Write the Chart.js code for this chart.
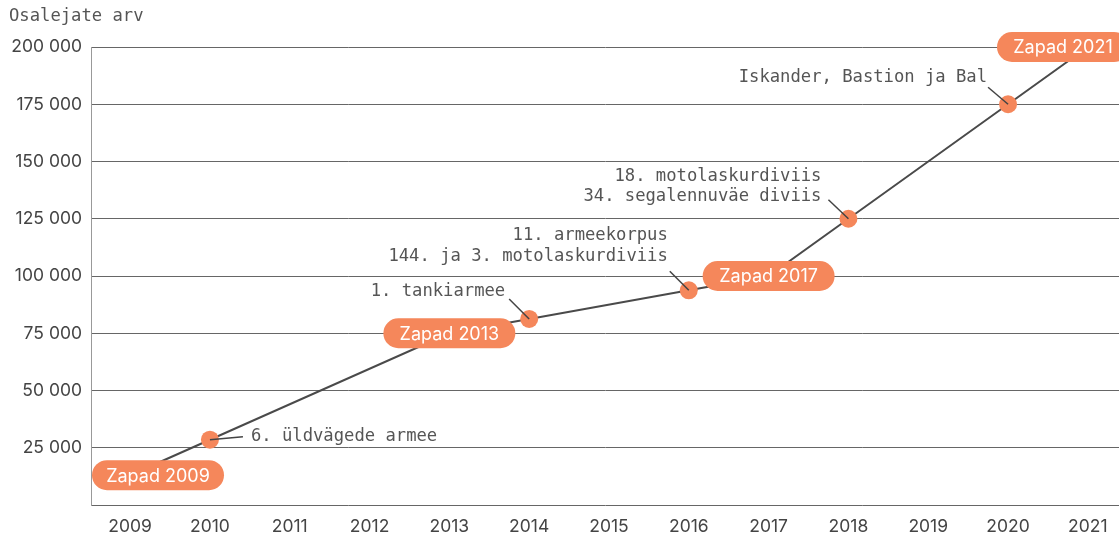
<!DOCTYPE html>
<html>
<head>
<meta charset="utf-8">
<script src="https://cdn.jsdelivr.net/npm/chart.js@4"></script>
<style>
  html, body { margin: 0; padding: 0; background: #fff; overflow: hidden; }
  #wrap { width: 1119px; height: 533px; position: relative; }
  canvas { display: block; }
</style>
</head>
<body>
<div id="wrap"><canvas id="chart"></canvas></div>
<script>
const years = [2009, 2010, 2011, 2012, 2013, 2014, 2015, 2016, 2017, 2018, 2019, 2020, 2021];
const lineYears = [2009, 2010, 2013, 2014, 2016, 2017, 2018, 2020, 2021];
const lineValues = [13000, 28500, 75000, 81250, 93750, 100000, 125000, 175000, 200000];
const zapadYears = [2009, 2013, 2017, 2021];
const zapadLabels = ['Zapad 2009', 'Zapad 2013', 'Zapad 2017', 'Zapad 2021'];
const unitYears = [2010, 2014, 2016, 2018, 2020];
const unitValues = [28500, 81250, 93750, 125000, 175000];
const unitLabels = [
    ['6. üldvägede armee'],
    ['1. tankiarmee'],
    ['11. armeekorpus', '144. ja 3. motolaskurdiviis'],
    ['18. motolaskurdiviis', '34. segalennuväe diviis'],
    ['Iskander, Bastion ja Bal']
];
const yTicks = [0, 25000, 50000, 75000, 100000, 125000, 150000, 175000, 200000];

const ORANGE = '#F5875B';
const MONO = '"DejaVu Sans Mono", "Liberation Mono", monospace';
const SANS = 'Inter, "Open Sans", sans-serif';

// label placement relative to each dot: text anchor and leader end
const unitLayout = [
    { tx: 41, ty: -3, align: 'left', lx: 33, ly: -3 },
    { tx: -24, ty: -27, align: 'right', lx: -20, ly: -20 },
    { tx: -21, ty: -34, align: 'right', lx: -19, ly: -19 },
    { tx: -27, ty: -22, align: 'right', lx: -20, ly: -19 },
    { tx: -21, ty: -27, align: 'right', lx: -20, ly: -17 }
];

function formatThousands(v) {
    if (v === 0) return '';
    return String(v).replace(/\B(?=(\d{3})+(?!\d))/g, ' ');
}

const annotations = {
    id: 'annotations',
    afterDatasetsDraw(chart) {
        const ctx = chart.ctx;
        const xs = chart.scales.x;
        const ys = chart.scales.y;
        const area = chart.chartArea;
        ctx.save();

        // unit labels with leader lines
        ctx.font = '17.2px ' + MONO;
        ctx.fillStyle = '#555';
        ctx.strokeStyle = '#444';
        ctx.lineWidth = 1.5;
        unitYears.forEach((yr, i) => {
            const px = xs.getPixelForValue(yr);
            const py = ys.getPixelForValue(unitValues[i]);
            const lay = unitLayout[i];
            ctx.beginPath();
            ctx.moveTo(px, py);
            ctx.lineTo(px + lay.lx, py + lay.ly);
            ctx.stroke();
            ctx.textAlign = lay.align;
            ctx.textBaseline = 'middle';
            const lines = unitLabels[i];
            lines.forEach((t, j) => {
                const off = (lines.length - 1 - j) * 20.5;
                ctx.fillText(t, px + lay.tx, py + lay.ty - off);
            });
        });

        // Zapad pills
        const w = 132, h = 30;
        ctx.font = '18px ' + SANS;
        zapadYears.forEach((yr, i) => {
            const idx = lineYears.indexOf(yr);
            const px = xs.getPixelForValue(yr);
            const py = ys.getPixelForValue(lineValues[idx]);
            let left = px - w / 2;
            left = Math.max(area.left + 1, Math.min(left, area.right - w + 10));
            ctx.fillStyle = ORANGE;
            ctx.beginPath();
            ctx.roundRect(left, py - h / 2, w, h, h / 2);
            ctx.fill();
            ctx.fillStyle = '#fff';
            ctx.textAlign = 'center';
            ctx.textBaseline = 'middle';
            ctx.fillText(zapadLabels[i], left + w / 2, py + 1);
        });

        // axis title
        ctx.font = '17.2px ' + MONO;
        ctx.fillStyle = '#555';
        ctx.textAlign = 'left';
        ctx.textBaseline = 'middle';
        ctx.fillText('Osalejate arv', 9, 17);
        ctx.restore();
    }
};

new Chart(document.getElementById('chart'), {
    type: 'line',
    data: {
        datasets: [
            {
                data: unitYears.map((x, i) => ({ x: x, y: unitValues[i] })),
                showLine: false,
                pointRadius: 9,
                pointHoverRadius: 9,
                pointBackgroundColor: ORANGE,
                pointBorderWidth: 0,
                order: 0
            },
            {
                data: lineYears.map((x, i) => ({ x: x, y: lineValues[i] })),
                borderColor: '#4a4a4a',
                borderWidth: 2,
                pointRadius: 0,
                tension: 0,
                order: 1
            }
        ]
    },
    options: {
        responsive: true,
        maintainAspectRatio: false,
        animation: false,
        layout: { autoPadding: false, padding: { top: 47, right: 0, left: 0, bottom: 0 } },
        plugins: {
            legend: { display: false },
            tooltip: { enabled: false }
        },
        scales: {
            x: {
                type: 'linear',
                min: 2008.51,
                max: 2021.39,
                afterFit(scale) {
                    scale.height = 28;
                    scale.paddingLeft = 0;
                    scale.paddingRight = 0;
                },
                afterBuildTicks(scale) { scale.ticks = years.map(v => ({ value: v })); },
                grid: { display: false, drawTicks: false },
                border: { display: false },
                ticks: {
                    padding: 11,
                    color: '#444',
                    font: { family: SANS, size: 17.5 },
                    callback: v => String(v),
                    maxRotation: 0,
                    autoSkip: false
                }
            },
            y: {
                min: 0,
                max: 200000,
                afterFit(scale) {
                    scale.width = 91;
                    scale.paddingTop = 0;
                    scale.paddingBottom = 0;
                },
                afterBuildTicks(scale) { scale.ticks = yTicks.map(v => ({ value: v })); },
                grid: { color: '#666', lineWidth: 1, drawTicks: false },
                border: { color: '#999', width: 1 },
                ticks: {
                    padding: 9,
                    color: '#444',
                    font: { family: SANS, size: 17.5 },
                    callback: v => formatThousands(v)
                }
            }
        }
    },
    plugins: [annotations]
});
</script>
</body>
</html>
